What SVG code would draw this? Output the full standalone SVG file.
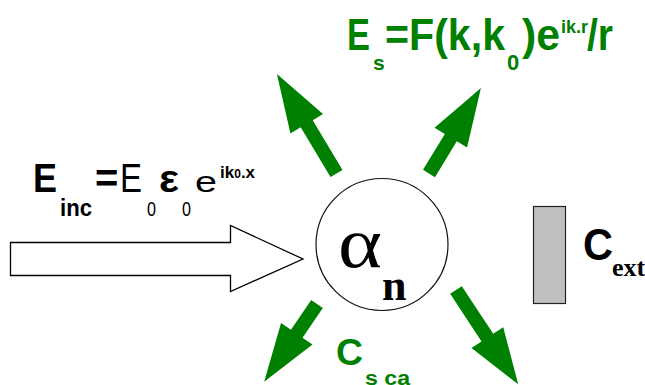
<svg xmlns="http://www.w3.org/2000/svg" width="645" height="385" viewBox="0 0 645 385">
<style>
.g{fill:#008000}
.b{font-family:"Liberation Sans",Arial,sans-serif;font-weight:bold}
.r{font-family:"Liberation Sans",Arial,sans-serif;font-weight:normal}
.s{font-family:"Liberation Serif","Times New Roman",serif}
.k{fill:#000}
.arrow{fill:#008000;stroke:none}
</style>
<rect width="645" height="385" fill="#fff"/>
<g id="connectors">
  <polygon id="incident" points="10.5,242.5 230.5,242.5 230.5,225.5 303,259 230.5,291.5 230.5,275.5 10.5,275.5" fill="#fff" stroke="#000" stroke-width="1.3"/>
  <path class="arrow" transform="translate(336.5,173.5) rotate(-120.9)" d="M0,-7 L58,-7 L58,-19 L116,0 L58,19 L58,7 L0,7 Z"/>
  <path class="arrow" transform="translate(429,173.5) rotate(-58.7)" d="M0,-7 L42,-7 L42,-19 L100,0 L42,19 L42,7 L0,7 Z"/>
  <path class="arrow" transform="translate(317,304) rotate(124.2)" d="M0,-7 L36,-7 L36,-19 L94,0 L36,19 L36,7 L0,7 Z"/>
  <path class="arrow" transform="translate(456,290) rotate(56.6)" d="M0,-7 L57,-7 L57,-19 L113,0 L57,19 L57,7 L0,7 Z"/>
</g>
<g id="particle">
  <circle cx="382" cy="244.5" r="66" fill="#fff" stroke="#111" stroke-width="1.2"/>
  <text class="s k" y="267" font-size="72"><tspan x="338" textLength="44" lengthAdjust="spacingAndGlyphs">α</tspan><tspan x="382" y="300" font-size="44" font-weight="bold">n</tspan></text>
</g>
<g id="detector">
  <rect x="533.5" y="206.5" width="32" height="97" fill="#c0c0c0" stroke="#222" stroke-width="1.2"/>
  <text class="b k" y="260" font-size="44"><tspan x="583" textLength="30" lengthAdjust="spacingAndGlyphs">C</tspan><tspan class="s" x="612" y="276" font-size="26" font-weight="bold">ext</tspan></text>
</g>
<g id="scattered-label">
  <text class="b g" y="50" font-size="44"><tspan x="347" textLength="23" lengthAdjust="spacingAndGlyphs">E</tspan><tspan x="373" y="70" font-size="21">s</tspan><tspan x="385" y="50" textLength="120" lengthAdjust="spacingAndGlyphs">=F(k,k</tspan><tspan x="507" y="70" font-size="22">0</tspan><tspan x="522" y="50" textLength="38" lengthAdjust="spacingAndGlyphs">)e</tspan><tspan x="561" y="33" font-size="18">ik.r</tspan><tspan x="587" y="50" textLength="26" lengthAdjust="spacingAndGlyphs">/r</tspan></text>
</g>
<g id="incident-label">
  <text class="b k" y="192" font-size="40"><tspan x="33" textLength="24" lengthAdjust="spacingAndGlyphs">E</tspan><tspan x="60" y="216" font-size="23" textLength="32" lengthAdjust="spacingAndGlyphs">inc</tspan><tspan x="95" y="192">=</tspan><tspan class="r" x="120" textLength="22" lengthAdjust="spacingAndGlyphs">E</tspan><tspan class="r" x="147" y="216" font-size="20" textLength="9" lengthAdjust="spacingAndGlyphs">0</tspan><tspan x="159" y="192" font-size="38" textLength="20" lengthAdjust="spacingAndGlyphs">ε</tspan><tspan class="r" x="182" y="216" font-size="20" textLength="9" lengthAdjust="spacingAndGlyphs">0</tspan><tspan class="r" x="195" y="192" font-size="30" textLength="22" lengthAdjust="spacingAndGlyphs">e</tspan><tspan x="220" y="178" font-size="17">ik<tspan font-size="12">0</tspan>.x</tspan></text>
</g>
<g id="scattering-label">
  <text class="b g" y="365" font-size="36"><tspan x="336" textLength="27" lengthAdjust="spacingAndGlyphs">C</tspan><tspan x="365" y="385" font-size="20" textLength="45" lengthAdjust="spacingAndGlyphs">s ca</tspan></text>
</g>
</svg>
